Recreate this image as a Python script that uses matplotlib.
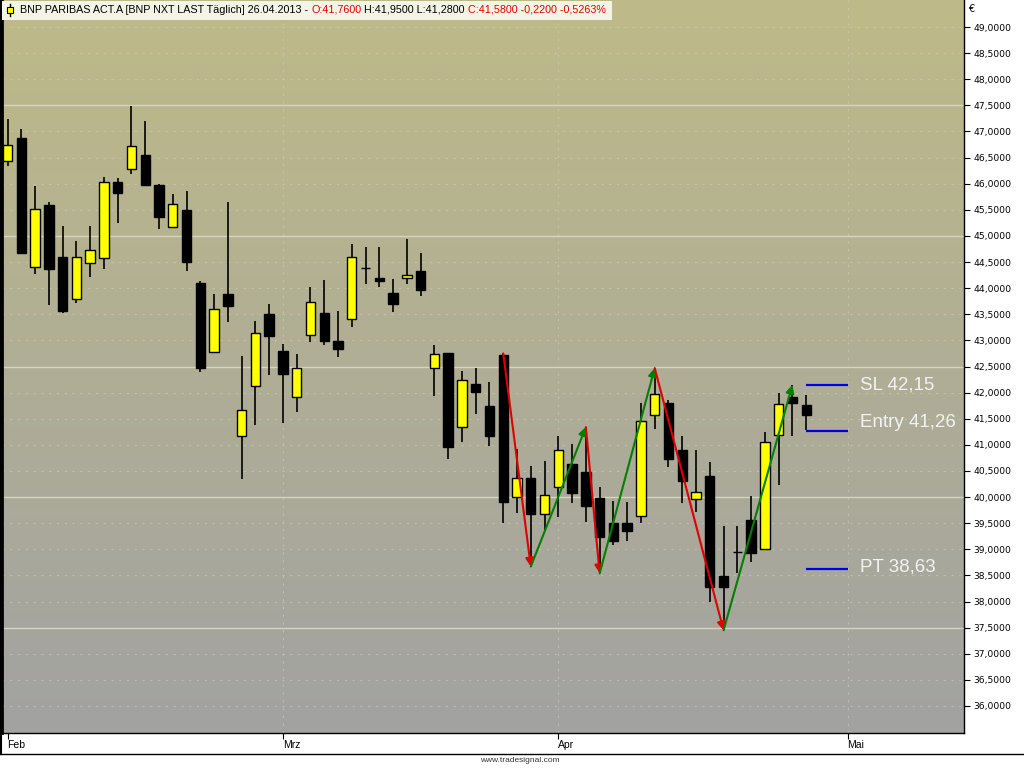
import numpy as np
import matplotlib
matplotlib.use("Agg")
import matplotlib.pyplot as plt
from matplotlib.lines import Line2D
from matplotlib.patches import Rectangle
from matplotlib.ticker import FuncFormatter, FixedLocator

# daily candles, BNP PARIBAS 01.02.2013 - 26.04.2013
opens = [46.44, 46.88, 44.40, 45.59, 44.60, 43.79, 44.49, 44.58, 46.03, 46.29,
         46.55, 45.97, 45.18, 45.50, 44.09, 42.78, 43.88, 41.16, 42.13, 43.51,
         42.79, 41.92, 43.10, 43.52, 42.99, 43.40, 44.38, 44.19, 43.91, 44.19,
         44.33, 42.48, 42.75, 41.34, 42.16, 41.74, 42.72, 40.00, 40.36, 39.68,
         40.19, 40.63, 40.48, 39.98, 39.50, 39.50, 39.64, 41.58, 41.81, 40.90,
         39.96, 40.40, 38.49, 38.95, 39.56, 39.00, 41.18, 41.92, 41.76]
highs = [47.24, 47.04, 45.96, 45.65, 45.19, 44.90, 45.19, 46.12, 46.10, 47.49,
         47.20, 45.99, 45.80, 45.86, 44.14, 43.88, 45.64, 42.71, 43.37, 43.70,
         42.94, 42.74, 44.03, 44.16, 43.57, 44.85, 44.79, 44.79, 44.18, 44.94,
         44.68, 42.91, 42.76, 42.41, 42.47, 42.20, 42.75, 40.93, 40.60, 40.70,
         41.17, 41.02, 41.34, 40.20, 39.92, 39.90, 41.81, 42.47, 41.85, 41.17,
         40.90, 40.68, 39.45, 39.45, 40.02, 41.25, 41.99, 42.15, 41.95]
lows = [46.33, 44.65, 44.28, 43.67, 43.52, 43.71, 44.22, 44.37, 45.25, 46.19,
        45.96, 45.13, 45.16, 44.32, 42.40, 42.75, 43.36, 40.34, 41.38, 42.34,
        41.41, 41.62, 42.97, 42.92, 42.69, 43.25, 44.08, 44.03, 43.55, 44.07,
        43.85, 41.94, 40.72, 41.05, 41.59, 40.98, 39.50, 39.69, 38.67, 39.37,
        39.62, 39.88, 39.53, 38.54, 39.08, 39.15, 39.50, 41.30, 40.58, 39.88,
        39.71, 38.00, 37.45, 38.55, 38.76, 38.99, 40.23, 41.17, 41.28]
closes = [46.74, 44.68, 45.52, 44.36, 43.56, 44.60, 44.74, 46.03, 45.83, 46.73,
          45.98, 45.37, 45.61, 44.51, 42.48, 43.61, 43.66, 41.66, 43.14, 43.09,
          42.35, 42.48, 43.73, 42.99, 42.84, 44.59, 44.38, 44.14, 43.70, 44.25,
          43.97, 42.74, 40.95, 42.24, 42.01, 41.16, 39.91, 40.36, 39.68, 40.04,
          40.91, 40.08, 39.82, 39.24, 39.15, 39.36, 41.46, 41.97, 40.72, 40.31,
          40.10, 38.28, 38.28, 38.95, 38.93, 41.05, 41.78, 41.80, 41.58]

# swing points (bar index, price)
swing_idx = [36, 38, 42, 43, 47, 52, 57]
swing_px = [42.75, 38.67, 41.34, 38.54, 42.47, 37.45, 42.15]

month_idx = [0, 20, 40, 61]
month_names = ["Feb", "Mrz", "Apr", "Mai"]

sl, entry, pt = 42.15, 41.26, 38.63

W, H = 1024, 768
fig = plt.figure(figsize=(W / 100, H / 100), dpi=100)
fig.patch.set_facecolor("white")

ax = fig.add_axes([2 / W, 1 - 733 / H, 962 / W, 733 / H])
ax.set_xlim(-0.40, 69.46)
ax.set_ylim(35.483, 49.517)

# background gradient
top = np.array([190, 186, 136]) / 255
bot = np.array([162, 162, 162]) / 255
t = np.linspace(0, 1, 256)[:, None]
grad = (top * (1 - t) + bot * t)[:, None, :]
ax.imshow(grad, extent=[0, 1, 0, 1], transform=ax.transAxes, aspect="auto", zorder=0)

# grid
for v in np.arange(36, 49.01, 0.5):
    if abs(v / 2.5 - round(v / 2.5)) < 1e-6:
        ax.axhline(v, color="#D6D6C0", lw=1, zorder=1)
    else:
        ax.axhline(v, color="#D0D0C0", lw=0.8, ls=(0, (2, 5)), alpha=0.55, zorder=1)
for m in month_idx[1:]:
    ax.axvline(m, color="#D0D0C0", lw=0.8, ls=(0, (2, 5)), alpha=0.55, zorder=1)

# candles
x = np.arange(len(opens))
o = np.array(opens); c = np.array(closes)
ax.vlines(x, lows, highs, color="black", lw=1.2, zorder=3)
up = c > o
down = c < o
ax.bar(x[up], (c - o)[up], bottom=o[up], width=0.68, color="#FFFF00",
       edgecolor="black", lw=1, zorder=4)
ax.bar(x[down], (o - c)[down], bottom=c[down], width=0.68, color="black",
       edgecolor="black", lw=1, zorder=4)
doji = c == o
ax.hlines(o[doji], x[doji] - 0.34, x[doji] + 0.34, color="black", lw=1, zorder=4)

# zigzag arrows
for k in range(len(swing_idx) - 1):
    col = "#E00000" if swing_px[k + 1] < swing_px[k] else "#008000"
    ax.annotate("", xy=(swing_idx[k + 1], swing_px[k + 1]),
                xytext=(swing_idx[k], swing_px[k]),
                arrowprops=dict(arrowstyle="-|>", color=col, lw=1.5,
                                mutation_scale=12, shrinkA=0, shrinkB=0),
                zorder=5)

# trade levels
for lvl in [sl, entry, pt]:
    ax.hlines(lvl, 58.0, 61.05, color="#0000E0", lw=1.6, zorder=5)
lab_kw = dict(color="#F2F2F2", fontsize=13.5, family="Liberation Sans", va="center", zorder=6)
ax.text(61.9, sl, "SL " + f"{sl:.2f}".replace(".", ","), **lab_kw)
ax.text(61.9, entry + 0.17, "Entry " + f"{entry:.2f}".replace(".", ","), **lab_kw)
ax.text(61.9, pt + 0.03, "PT " + f"{pt:.2f}".replace(".", ","), **lab_kw)

# axes styling
ax.yaxis.tick_right()
ax.yaxis.set_major_locator(FixedLocator(np.arange(36, 49.01, 0.5)))
ax.yaxis.set_major_formatter(FuncFormatter(lambda v, p: f"{v:.4f}".replace(".", ",")))
ax.tick_params(axis="y", direction="out", length=4, width=0.8, pad=3,
               labelsize=6.6, colors="black")
ax.set_xticks(month_idx)
ax.set_xticklabels(month_names)
ax.tick_params(axis="x", direction="out", length=4, width=0.8, pad=1, labelsize=7.5)
for lab in ax.get_xticklabels():
    lab.set_horizontalalignment("left")
    lab.set_family("Liberation Sans")
for sp in ax.spines.values():
    sp.set_color("black")
    sp.set_linewidth(1)
ax.spines["top"].set_visible(False)
ax.spines["left"].set_linewidth(2)

# frame lines outside the plot
fig.add_artist(Line2D([0, 1], [1 - 754 / H, 1 - 754 / H], color="black", lw=1))
fig.add_artist(Line2D([1 / W, 1 / W], [1 - 754 / H, 1], color="black", lw=1.5))

fig.text(968 / W, 1 - 9 / H, "€", fontsize=7, va="center", ha="left")
fig.text(520 / W, 1 - 761 / H, "www.tradesignal.com", fontsize=6, ha="center",
         va="center", color="#333333", family="Liberation Sans")

# header line
fig.patches.append(Rectangle((2 / W, 1 - 20 / H), 610 / W, 19 / H, transform=fig.transFigure,
                             facecolor="#F4F4E6", edgecolor="none", zorder=10))
fig.add_artist(Line2D([10 / W, 10 / W], [1 - 16 / H, 1 - 4 / H], color="black", lw=1, zorder=11))
fig.patches.append(Rectangle((7 / W, 1 - 13 / H), 6 / W, 6 / H, transform=fig.transFigure,
                             facecolor="#FFFF00", edgecolor="black", lw=0.8, zorder=12))
parts = [("BNP PARIBAS ACT.A [BNP NXT LAST Täglich] 26.04.2013 - ", "black"),
         ("O:41,7600", "#E00000"),
         (" H:41,9500 L:41,2800 ", "black"),
         ("C:41,5800 -0,2200 -0,5263%", "#E00000")]
renderer = fig.canvas.get_renderer()
xpos = 20
for txt, col in parts:
    tt = fig.text(xpos / W, 1 - 10 / H, txt, fontsize=7.75, color=col, va="center",
                  ha="left", family="Liberation Sans", zorder=13)
    bb = tt.get_window_extent(renderer)
    xpos = bb.x1

fig.savefig("out.png", dpi=100)
